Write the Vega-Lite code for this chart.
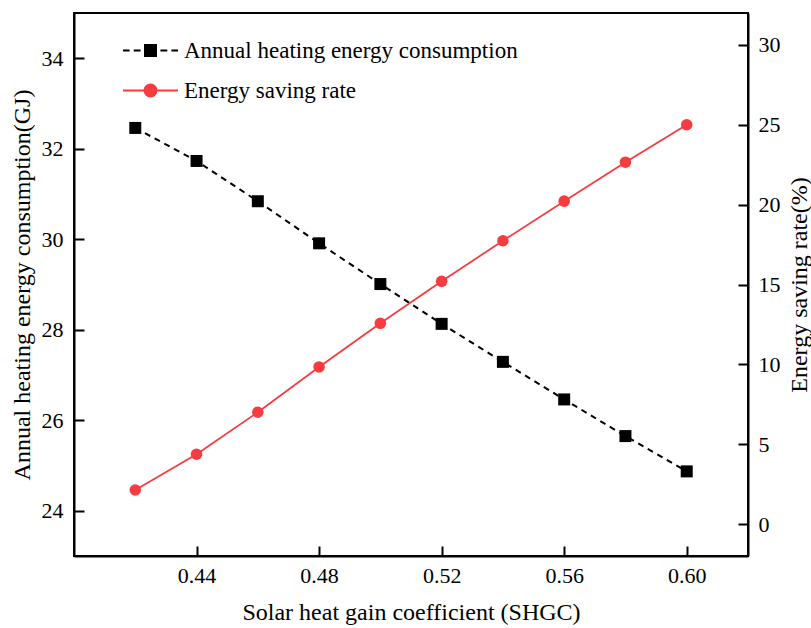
{
  "$schema": "https://vega.github.io/schema/vega-lite/v6.json",
  "width": 674,
  "height": 543,
  "autosize": {"type": "none"},
  "padding": {"left": 74, "top": 13, "right": 63, "bottom": 72},
  "background": "white",
  "config": {
    "font": "Liberation Serif",
    "view": {"stroke": "black", "strokeWidth": 2},
    "axis": {
      "grid": false,
      "domainColor": "black",
      "domainWidth": 2,
      "tickColor": "black",
      "tickWidth": 2,
      "tickSize": -10,
      "labelFont": "Liberation Serif",
      "labelFontSize": 22,
      "labelColor": "black",
      "titleFont": "Liberation Serif",
      "titleFontSize": 24,
      "titleFontWeight": "normal",
      "titleColor": "black"
    },
    "legend": {
      "labelFont": "Liberation Serif",
      "labelFontSize": 23,
      "labelColor": "black",
      "labelLimit": 0,
      "symbolOpacity": 1
    }
  },
  "data": {
    "values": [
      {"shgc": 0.42, "series": "Annual heating energy consumption", "value": 32.46},
      {"shgc": 0.44, "series": "Annual heating energy consumption", "value": 31.73},
      {"shgc": 0.46, "series": "Annual heating energy consumption", "value": 30.84},
      {"shgc": 0.48, "series": "Annual heating energy consumption", "value": 29.91},
      {"shgc": 0.50, "series": "Annual heating energy consumption", "value": 29.01},
      {"shgc": 0.52, "series": "Annual heating energy consumption", "value": 28.13},
      {"shgc": 0.54, "series": "Annual heating energy consumption", "value": 27.29},
      {"shgc": 0.56, "series": "Annual heating energy consumption", "value": 26.46},
      {"shgc": 0.58, "series": "Annual heating energy consumption", "value": 25.65},
      {"shgc": 0.60, "series": "Annual heating energy consumption", "value": 24.87},
      {"shgc": 0.42, "series": "Energy saving rate", "value": 2.13},
      {"shgc": 0.44, "series": "Energy saving rate", "value": 4.37},
      {"shgc": 0.46, "series": "Energy saving rate", "value": 7.0},
      {"shgc": 0.48, "series": "Energy saving rate", "value": 9.84},
      {"shgc": 0.50, "series": "Energy saving rate", "value": 12.57},
      {"shgc": 0.52, "series": "Energy saving rate", "value": 15.2},
      {"shgc": 0.54, "series": "Energy saving rate", "value": 17.74},
      {"shgc": 0.56, "series": "Energy saving rate", "value": 20.22},
      {"shgc": 0.58, "series": "Energy saving rate", "value": 22.66},
      {"shgc": 0.60, "series": "Energy saving rate", "value": 25.0}
    ]
  },
  "encoding": {
    "x": {
      "field": "shgc",
      "type": "quantitative",
      "scale": {"domain": [0.40, 0.62], "nice": false, "zero": false},
      "axis": {
        "values": [0.44, 0.48, 0.52, 0.56, 0.60],
        "format": ".2f",
        "title": "Solar heat gain coefficient (SHGC)",
        "labelPadding": 19,
        "titlePadding": 14
      }
    }
  },
  "layer": [
    {
      "transform": [{"filter": "datum.series === 'Annual heating energy consumption'"}],
      "encoding": {
        "y": {
          "field": "value",
          "type": "quantitative",
          "scale": {"domain": [23, 35], "nice": false, "zero": false},
          "axis": {
            "orient": "left",
            "values": [24, 26, 28, 30, 32, 34],
            "title": "Annual heating energy consumption(GJ)",
            "labelPadding": 21,
            "titlePadding": 7
          }
        }
      },
      "layer": [
        {"mark": {"type": "line", "color": "black", "strokeWidth": 2, "strokeDash": [6, 5]}, "encoding": {}},
        {
          "mark": {"type": "point", "shape": "square", "filled": true, "size": 144, "opacity": 1},
          "encoding": {
            "color": {
              "field": "series",
              "type": "nominal",
              "scale": {"domain": ["Annual heating energy consumption"], "range": ["black"]},
              "legend": {
                "title": null,
                "orient": "none",
                "legendX": 48,
                "legendY": 9,
                "symbolType": "M-1,0H-0.76M-0.61,0H-0.36M0.36,0H0.61M0.76,0H1M-0.2,-0.2H0.2V0.2H-0.2Z",
                "symbolSize": 3025,
                "symbolStrokeWidth": 2,
                "symbolStrokeColor": "black",
                "symbolFillColor": "black",
                "labelOffset": 5
              }
            }
          }
        }
      ]
    },
    {
      "transform": [{"filter": "datum.series === 'Energy saving rate'"}],
      "encoding": {
        "y": {
          "field": "value",
          "type": "quantitative",
          "scale": {"domain": [-2, 32], "nice": false, "zero": false},
          "axis": {
            "orient": "right",
            "values": [0, 5, 10, 15, 20, 25, 30],
            "title": "Energy saving rate(%)",
            "titleAngle": -90,
            "labelPadding": 20,
            "titlePadding": 31
          }
        }
      },
      "layer": [
        {"mark": {"type": "line", "color": "#f63c40", "strokeWidth": 1.8}, "encoding": {}},
        {
          "mark": {"type": "point", "shape": "circle", "filled": true, "size": 133, "opacity": 1},
          "encoding": {
            "color": {
              "field": "series",
              "type": "nominal",
              "scale": {"domain": ["Energy saving rate"], "range": ["#f63c40"]},
              "legend": {
                "title": null,
                "orient": "none",
                "legendX": 48,
                "legendY": 49,
                "symbolType": "M-1,0H-0.22M0.22,0H1M-0.22,0A0.22,0.22,0,1,1,0.22,0A0.22,0.22,0,1,1,-0.22,0Z",
                "symbolSize": 3025,
                "symbolStrokeWidth": 1.8,
                "symbolStrokeColor": "#f63c40",
                "symbolFillColor": "#f63c40",
                "labelOffset": 5
              }
            }
          }
        }
      ]
    }
  ],
  "resolve": {
    "scale": {"y": "independent", "color": "independent"},
    "legend": {"color": "independent"}
  }
}
